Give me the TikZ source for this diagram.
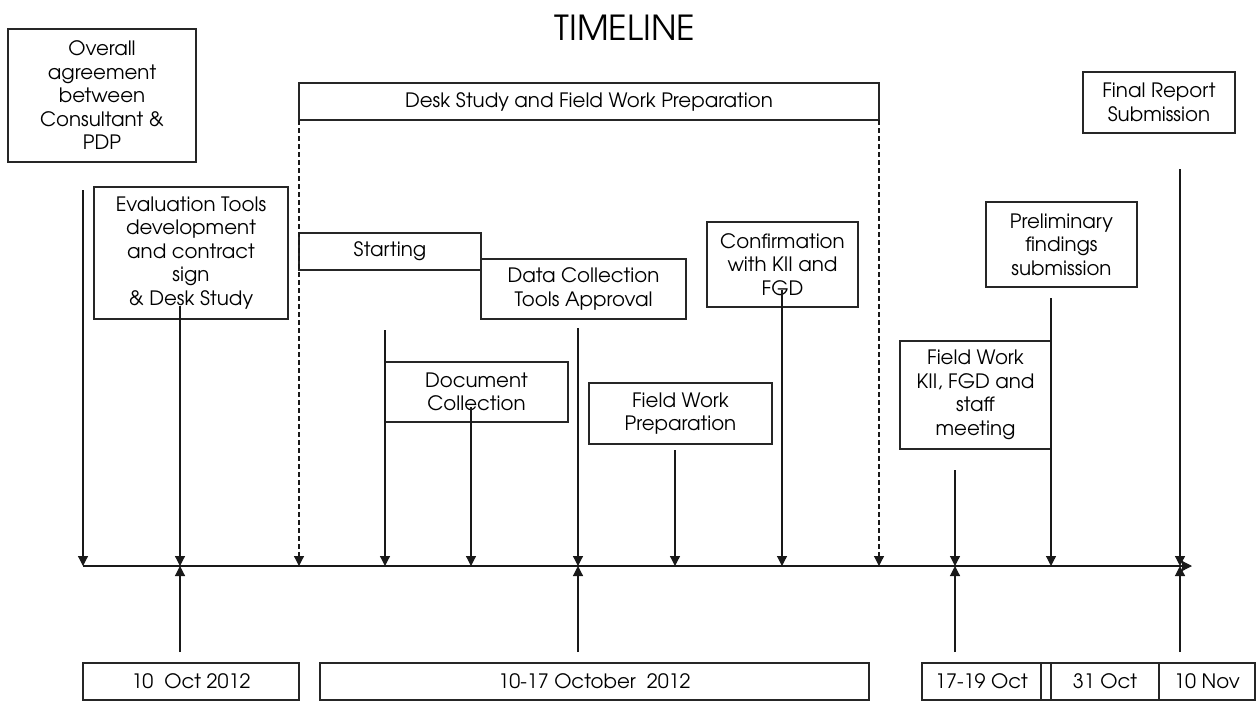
\documentclass[tikz,border=0pt]{standalone}
\usepackage{fontspec}
\setmainfont{texgyreadventor}[Extension=.otf,UprightFont=*-regular,BoldFont=*-bold]
\usetikzlibrary{arrows.meta}
\begin{document}
\begin{tikzpicture}[x=1pt,y=-1pt,
  box/.style={draw=black!85,line width=1.2pt,rectangle,inner sep=0pt,align=center,
    font=\fontsize{19.8}{23.5}\selectfont},
  conn/.style={draw=black!90,line width=1.2pt,-{Triangle[width=10pt,length=10pt]}},
  dconn/.style={conn,dash pattern=on 4.5pt off 3.5pt},
  axisline/.style={draw=black!90,line width=1.2pt,-{Triangle[width=10pt,length=10pt]}}]
\useasboundingbox (0,0) rectangle (1258,702);
\node[font=\fontsize{34.5}{38}\selectfont] (title) at (625,28) {TIMELINE};
% top boxes
\node[box,minimum width=188pt,minimum height=133pt] (overall) at (102,95.5)
  {Overall\\agreement\\between\\Consultant \&\\PDP};
\node[box,minimum width=194pt,minimum height=132pt] (eval) at (191,253)
  {Evaluation Tools\\development\\and contract\\sign\\\& Desk Study};
\node[box,minimum width=580pt,minimum height=37pt] (desk) at (589,101.5)
  {Desk Study and Field Work Preparation};
\node[box,minimum width=182pt,minimum height=37pt] (start) at (390,251.5) {Starting};
\node[box,minimum width=205pt,minimum height=60pt] (dct) at (583.5,289)
  {Data Collection\\Tools Approval};
\node[box,minimum width=183pt,minimum height=60pt] (doc) at (476.5,392)
  {Document\\Collection};
\node[box,minimum width=183pt,minimum height=61pt] (fwp) at (680.5,413.5)
  {Field Work\\Preparation};
\node[box,minimum width=151pt,minimum height=85pt] (conf) at (782.5,264.5)
  {Confirmation\\with KII and\\FGD};
\node[box,minimum width=151pt,minimum height=108pt] (fwk) at (975.5,395)
  {Field Work\\KII, FGD and\\staff\\meeting};
\node[box,minimum width=151pt,minimum height=85pt] (prel) at (1061.5,244.5)
  {Preliminary\\findings\\submission};
\node[box,minimum width=152pt,minimum height=61pt] (final) at (1159,102.5)
  {Final Report\\Submission};
% date boxes
\node[box,minimum width=216pt,minimum height=37pt] (d1) at (191,681.5) {10\ \ Oct 2012};
\node[box,minimum width=549pt,minimum height=37pt] (d2) at (594.5,681.5) {10-17 October\ \ 2012};
\node[box,minimum width=119pt,minimum height=37pt] (d3) at (981.5,681.5) {17-19 Oct};
\node[box,minimum width=10pt,minimum height=37pt] (d3b) at (1046,681.5) {};
\node[box,minimum width=108pt,minimum height=37pt] (d4) at (1105,681.5) {31 Oct};
\node[box,minimum width=96pt,minimum height=37pt] (d5) at (1207,681.5) {10 Nov};
% axis coordinates
\coordinate (ax0) at (83,566);
\coordinate (axend) at (1192,566);
\coordinate (a1) at (83,566);
\coordinate (a2) at (180,566);
\coordinate (a3) at (299,566);
\coordinate (a4) at (385,566);
\coordinate (a5) at (471,566);
\coordinate (a6) at (578,566);
\coordinate (a7) at (675,566);
\coordinate (a8) at (782,566);
\coordinate (a9) at (879,566);
\coordinate (a10) at (955,566);
\coordinate (a11) at (1051,566);
\coordinate (a12) at (1180,566);
% start coordinates
\coordinate (s1) at (83,190);
\coordinate (s2) at (180,306);
\coordinate (s3) at (299,120);
\coordinate (s4) at (385,330);
\coordinate (s5) at (471,407);
\coordinate (s6) at (578,328);
\coordinate (s7) at (675,450);
\coordinate (s8) at (782,290);
\coordinate (s9) at (879,120);
\coordinate (s10) at (955,470);
\coordinate (s11) at (1051,298);
\coordinate (s12) at (1180,169);
\coordinate (u2) at (180,652);
\coordinate (u6) at (578,652);
\coordinate (u10) at (955,652);
\coordinate (u12) at (1180,652);
% axis
\draw[axisline] (ax0) -- (axend);
% down connectors
\draw[conn] (s1) -- (a1);
\draw[conn] (s2) -- (a2);
\draw[dconn] (s3) -- (a3);
\draw[conn] (s4) -- (a4);
\draw[conn] (s5) -- (a5);
\draw[conn] (s6) -- (a6);
\draw[conn] (s7) -- (a7);
\draw[conn] (s8) -- (a8);
\draw[dconn] (s9) -- (a9);
\draw[conn] (s10) -- (a10);
\draw[conn] (s11) -- (a11);
\draw[conn] (s12) -- (a12);
% up connectors
\draw[conn] (u2) -- (a2);
\draw[conn] (u6) -- (a6);
\draw[conn] (u10) -- (a10);
\draw[conn] (u12) -- (a12);
\end{tikzpicture}
\end{document}
